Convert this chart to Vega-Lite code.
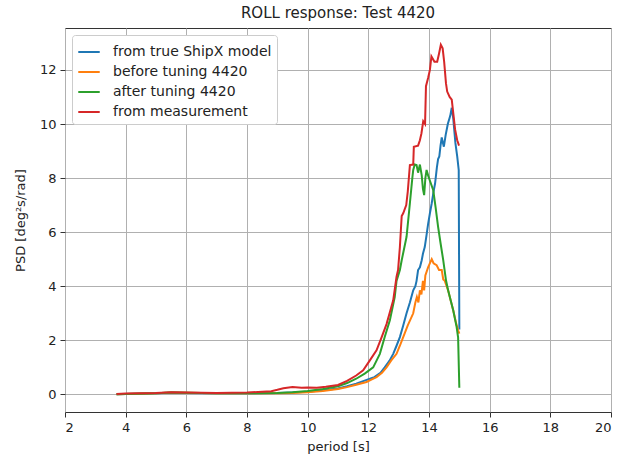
{
  "$schema": "https://vega.github.io/schema/vega-lite/v6.json",
  "autosize": "none",
  "width": 546,
  "height": 384,
  "padding": {"left": 65, "top": 28, "right": 8, "bottom": 45},
  "background": "white",
  "title": {"text": "ROLL response: Test 4420", "font": "DejaVu Sans", "fontSize": 15, "fontWeight": "normal", "color": "#222", "offset": 7},
  "config": {
    "font": "DejaVu Sans",
    "view": {"stroke": "#333", "strokeWidth": 1},
    "axis": {"labelFont": "DejaVu Sans", "titleFont": "DejaVu Sans", "labelFontSize": 13, "titleFontSize": 13, "titleFontWeight": "normal", "labelColor": "#222", "titleColor": "#222", "gridColor": "#b0b0b0", "gridWidth": 1, "domain": false, "tickColor": "#333", "tickSize": 5, "labelPadding": 4},
    "legend": {"labelFont": "DejaVu Sans", "labelFontSize": 14, "labelColor": "#222", "symbolType": "stroke", "symbolSize": 460, "symbolStrokeWidth": 2, "rowPadding": 1, "padding": 5, "strokeColor": "#ccc", "fillColor": "white", "cornerRadius": 3, "labelOffset": 12}
  },
  "datasets": {
    "blue": [
      {"period": 3.7, "psd": 0.01}, {"period": 4, "psd": 0.02}, {"period": 5, "psd": 0.04}, {"period": 5.5, "psd": 0.06}, {"period": 6, "psd": 0.05}, {"period": 7, "psd": 0.04}, {"period": 8, "psd": 0.04}, {"period": 9, "psd": 0.05}, {"period": 9.5, "psd": 0.07}, {"period": 10, "psd": 0.1}, {"period": 10.5, "psd": 0.15}, {"period": 11, "psd": 0.22}, {"period": 11.3, "psd": 0.3}, {"period": 11.6, "psd": 0.4}, {"period": 11.9, "psd": 0.52}, {"period": 12.1, "psd": 0.6}, {"period": 12.2, "psd": 0.64}, {"period": 12.4, "psd": 0.8}, {"period": 12.54, "psd": 1.0}, {"period": 12.7, "psd": 1.25}, {"period": 12.82, "psd": 1.5}, {"period": 12.93, "psd": 1.8}, {"period": 13.04, "psd": 2.12}, {"period": 13.15, "psd": 2.55}, {"period": 13.26, "psd": 3.0}, {"period": 13.37, "psd": 3.4}, {"period": 13.48, "psd": 3.85}, {"period": 13.55, "psd": 4.0}, {"period": 13.59, "psd": 4.2}, {"period": 13.64, "psd": 4.6}, {"period": 13.7, "psd": 4.7}, {"period": 13.76, "psd": 4.96}, {"period": 13.8, "psd": 5.2}, {"period": 13.86, "psd": 5.45}, {"period": 13.92, "psd": 5.9}, {"period": 13.97, "psd": 6.3}, {"period": 14.03, "psd": 6.7}, {"period": 14.09, "psd": 7.07}, {"period": 14.15, "psd": 7.5}, {"period": 14.2, "psd": 7.8}, {"period": 14.26, "psd": 8.4}, {"period": 14.3, "psd": 8.7}, {"period": 14.34, "psd": 8.8}, {"period": 14.38, "psd": 9.2}, {"period": 14.42, "psd": 9.5}, {"period": 14.46, "psd": 9.3}, {"period": 14.49, "psd": 9.16}, {"period": 14.55, "psd": 9.6}, {"period": 14.62, "psd": 10.0}, {"period": 14.7, "psd": 10.3}, {"period": 14.75, "psd": 10.6}, {"period": 14.8, "psd": 10.2}, {"period": 14.87, "psd": 9.3}, {"period": 14.93, "psd": 8.8}, {"period": 14.98, "psd": 8.3}, {"period": 15.0, "psd": 2.4}
    ],
    "orange": [
      {"period": 3.7, "psd": 0.01}, {"period": 4, "psd": 0.02}, {"period": 5, "psd": 0.04}, {"period": 5.5, "psd": 0.07}, {"period": 6, "psd": 0.06}, {"period": 7, "psd": 0.04}, {"period": 8, "psd": 0.04}, {"period": 9, "psd": 0.04}, {"period": 9.5, "psd": 0.05}, {"period": 10, "psd": 0.08}, {"period": 10.5, "psd": 0.13}, {"period": 11, "psd": 0.2}, {"period": 11.3, "psd": 0.27}, {"period": 11.6, "psd": 0.36}, {"period": 11.94, "psd": 0.46}, {"period": 12.1, "psd": 0.55}, {"period": 12.27, "psd": 0.64}, {"period": 12.45, "psd": 0.8}, {"period": 12.6, "psd": 1.0}, {"period": 12.75, "psd": 1.25}, {"period": 12.93, "psd": 1.5}, {"period": 13.04, "psd": 1.8}, {"period": 13.15, "psd": 2.12}, {"period": 13.3, "psd": 2.55}, {"period": 13.48, "psd": 3.0}, {"period": 13.55, "psd": 3.4}, {"period": 13.6, "psd": 3.6}, {"period": 13.65, "psd": 3.4}, {"period": 13.7, "psd": 3.85}, {"period": 13.75, "psd": 3.7}, {"period": 13.8, "psd": 4.2}, {"period": 13.84, "psd": 3.85}, {"period": 13.88, "psd": 4.4}, {"period": 13.97, "psd": 4.7}, {"period": 14.05, "psd": 4.9}, {"period": 14.09, "psd": 5.0}, {"period": 14.15, "psd": 4.85}, {"period": 14.25, "psd": 4.78}, {"period": 14.33, "psd": 4.6}, {"period": 14.42, "psd": 4.6}, {"period": 14.47, "psd": 4.25}, {"period": 14.52, "psd": 4.2}, {"period": 14.63, "psd": 3.85}, {"period": 14.72, "psd": 3.45}, {"period": 14.8, "psd": 3.1}, {"period": 14.9, "psd": 2.6}, {"period": 14.96, "psd": 2.37}, {"period": 15.0, "psd": 2.25}
    ],
    "green": [
      {"period": 3.7, "psd": 0.01}, {"period": 4, "psd": 0.02}, {"period": 5, "psd": 0.04}, {"period": 5.5, "psd": 0.07}, {"period": 6, "psd": 0.06}, {"period": 7, "psd": 0.04}, {"period": 8, "psd": 0.04}, {"period": 9, "psd": 0.05}, {"period": 9.5, "psd": 0.08}, {"period": 10, "psd": 0.13}, {"period": 10.5, "psd": 0.2}, {"period": 11, "psd": 0.3}, {"period": 11.3, "psd": 0.42}, {"period": 11.6, "psd": 0.58}, {"period": 11.88, "psd": 0.77}, {"period": 12.16, "psd": 1.0}, {"period": 12.38, "psd": 1.5}, {"period": 12.54, "psd": 2.12}, {"period": 12.71, "psd": 2.74}, {"period": 12.87, "psd": 3.6}, {"period": 12.93, "psd": 4.2}, {"period": 13.04, "psd": 4.6}, {"period": 13.1, "psd": 4.96}, {"period": 13.26, "psd": 5.83}, {"period": 13.37, "psd": 7.07}, {"period": 13.45, "psd": 8.0}, {"period": 13.48, "psd": 8.3}, {"period": 13.53, "psd": 8.5}, {"period": 13.59, "psd": 8.48}, {"period": 13.64, "psd": 8.2}, {"period": 13.7, "psd": 8.5}, {"period": 13.76, "psd": 8.1}, {"period": 13.8, "psd": 7.6}, {"period": 13.84, "psd": 7.37}, {"period": 13.88, "psd": 8.0}, {"period": 13.92, "psd": 8.3}, {"period": 13.97, "psd": 8.1}, {"period": 14.03, "psd": 7.9}, {"period": 14.14, "psd": 7.55}, {"period": 14.22, "psd": 6.9}, {"period": 14.3, "psd": 6.2}, {"period": 14.38, "psd": 5.6}, {"period": 14.47, "psd": 4.96}, {"period": 14.56, "psd": 4.22}, {"period": 14.63, "psd": 3.85}, {"period": 14.8, "psd": 3.1}, {"period": 14.91, "psd": 2.5}, {"period": 14.96, "psd": 2.1}, {"period": 15.0, "psd": 0.25}
    ],
    "red": [
      {"period": 3.7, "psd": 0.02}, {"period": 4, "psd": 0.03}, {"period": 5, "psd": 0.05}, {"period": 5.5, "psd": 0.08}, {"period": 6, "psd": 0.07}, {"period": 7, "psd": 0.05}, {"period": 8, "psd": 0.07}, {"period": 8.5, "psd": 0.1}, {"period": 8.8, "psd": 0.12}, {"period": 9.0, "psd": 0.17}, {"period": 9.2, "psd": 0.23}, {"period": 9.5, "psd": 0.27}, {"period": 9.8, "psd": 0.25}, {"period": 10, "psd": 0.26}, {"period": 10.3, "psd": 0.25}, {"period": 10.6, "psd": 0.28}, {"period": 11, "psd": 0.35}, {"period": 11.3, "psd": 0.5}, {"period": 11.6, "psd": 0.7}, {"period": 11.83, "psd": 0.89}, {"period": 12.05, "psd": 1.26}, {"period": 12.27, "psd": 1.63}, {"period": 12.44, "psd": 2.12}, {"period": 12.6, "psd": 2.6}, {"period": 12.7, "psd": 3.0}, {"period": 12.82, "psd": 3.48}, {"period": 12.93, "psd": 4.35}, {"period": 12.98, "psd": 4.6}, {"period": 13.04, "psd": 5.45}, {"period": 13.1, "psd": 6.6}, {"period": 13.15, "psd": 6.7}, {"period": 13.25, "psd": 7.0}, {"period": 13.3, "psd": 7.5}, {"period": 13.37, "psd": 8.48}, {"period": 13.48, "psd": 8.5}, {"period": 13.5, "psd": 9.16}, {"period": 13.64, "psd": 9.2}, {"period": 13.7, "psd": 9.4}, {"period": 13.75, "psd": 9.65}, {"period": 13.81, "psd": 10.1}, {"period": 13.87, "psd": 10.0}, {"period": 13.9, "psd": 11.4}, {"period": 13.97, "psd": 11.7}, {"period": 14.03, "psd": 12.0}, {"period": 14.08, "psd": 12.5}, {"period": 14.18, "psd": 12.3}, {"period": 14.27, "psd": 12.3}, {"period": 14.33, "psd": 12.6}, {"period": 14.39, "psd": 12.93}, {"period": 14.45, "psd": 12.8}, {"period": 14.5, "psd": 12.3}, {"period": 14.56, "psd": 11.5}, {"period": 14.6, "psd": 11.2}, {"period": 14.68, "psd": 11.0}, {"period": 14.75, "psd": 10.9}, {"period": 14.8, "psd": 10.4}, {"period": 14.86, "psd": 9.8}, {"period": 14.93, "psd": 9.4}, {"period": 14.99, "psd": 9.2}
    ]
  },
  "encoding": {
    "x": {"field": "period", "type": "quantitative", "scale": {"domain": [2, 20], "nice": false, "zero": false}, "axis": {"values": [2, 4, 6, 8, 10, 12, 14, 16, 18, 20], "title": "period [s]", "titlePadding": 6}},
    "y": {"field": "psd", "type": "quantitative", "scale": {"domain": [-0.65, 13.55], "nice": false, "zero": false}, "axis": {"values": [0, 2, 4, 6, 8, 10, 12], "title": "PSD [deg²s/rad]", "titlePadding": 12}}
  },
  "layer": [
    {"data": {"name": "blue"}, "mark": {"type": "line", "strokeWidth": 2}, "encoding": {"color": {"datum": "from true ShipX model", "type": "nominal", "scale": {"domain": ["from true ShipX model", "before tuning 4420", "after tuning 4420", "from measurement"], "range": ["#1f77b4", "#ff7f0e", "#2ca02c", "#d62728"]}, "legend": {"title": null, "orient": "top-left", "offset": 7}}}},
    {"data": {"name": "orange"}, "mark": {"type": "line", "strokeWidth": 2}, "encoding": {"color": {"datum": "before tuning 4420", "type": "nominal"}}},
    {"data": {"name": "green"}, "mark": {"type": "line", "strokeWidth": 2}, "encoding": {"color": {"datum": "after tuning 4420", "type": "nominal"}}},
    {"data": {"name": "red"}, "mark": {"type": "line", "strokeWidth": 2}, "encoding": {"color": {"datum": "from measurement", "type": "nominal"}}}
  ]
}
